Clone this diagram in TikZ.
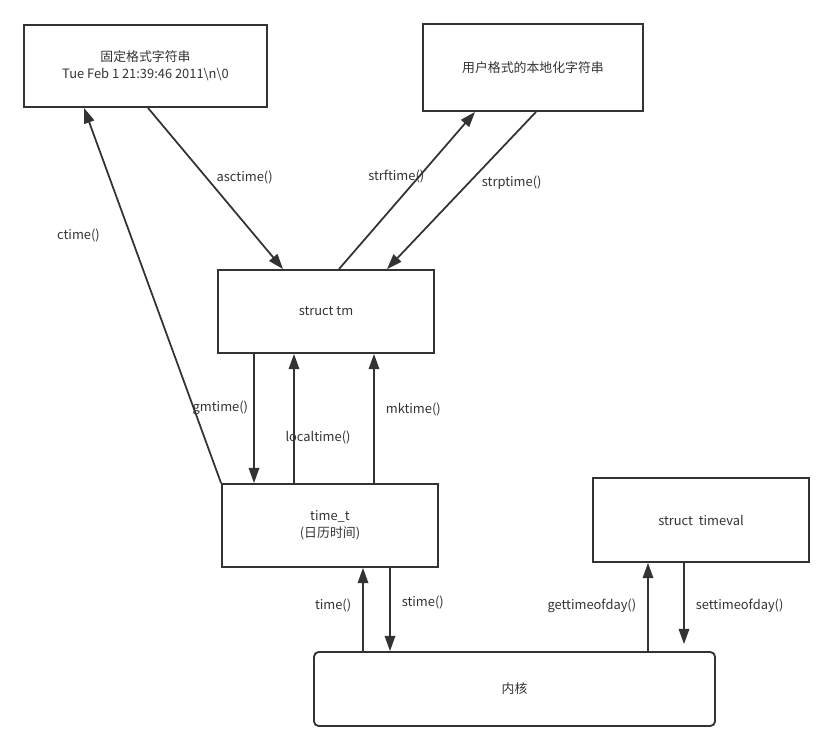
\documentclass[tikz,border=0pt]{standalone}
\usepackage{fontspec}
\setmainfont{Noto Sans CJK SC}
\usepackage{xcolor}
\usepackage{tikz}
\definecolor{ink}{HTML}{333333}
\tikzstyle{box} = [draw=ink, line width=1.6pt, text=ink, align=center, inner sep=0pt]
\tikzstyle{arr} = [draw=ink, line width=1.5pt, -{Triangle[length=13pt,width=9pt]}]
\tikzstyle{lbl} = [text=ink]
\usetikzlibrary{arrows.meta,calc}

\begin{document}
\begin{tikzpicture}[x=0.03cm, y=-0.03cm]
  \tikzstyle{every node}=[font=\fontsize{11}{14.5}\selectfont]
  \useasboundingbox (0,0) rectangle (834,752);
  \node[box, minimum width=7.29cm, minimum height=2.46cm] (fixstr) at (145.5,66) {固定格式字符串\\Tue Feb 1 21:39:46 2011\textbackslash n\textbackslash 0};
  \node[box, minimum width=6.6cm, minimum height=2.61cm] (userstr) at (533,67.5) {用户格式的本地化字符串};
  \node[box, minimum width=6.48cm, minimum height=2.49cm] (tm) at (326,311.5) {struct tm};
  \node[box, minimum width=6.48cm, minimum height=2.49cm] (timet) at (330,525.5) {time\_t\\(日历时间)};
  \node[box, minimum width=6.48cm, minimum height=2.52cm] (timeval) at (701,520) {struct\ \ timeval};
  \node[box, rounded corners=4pt, minimum width=12.03cm, minimum height=2.22cm] (kernel) at (514.5,689) {内核};

  \draw[arr] ($(fixstr.south)+(2.5,0)$) -- ($(tm.north)+(-43,0)$) node[lbl, pos=0.43, right=5pt] {asctime()};
  \draw[arr] ($(tm.north)+(13,0)$) -- ($(userstr.south)+(-58,0)$) node[lbl, pos=0.59, xshift=-0.69cm] {strftime()};
  \draw[arr] ($(userstr.south)+(3,0)$) -- ($(tm.north)+(61,0)$) node[lbl, pos=0.45, right=7pt] {strptime()};
  \draw[arr] (timet.north west) -- ($(fixstr.south)+(-61.5,0)$) node[lbl, pos=0.66, left=0.78cm] {ctime()};

  \draw[arr] ($(tm.south)+(-72,0)$) -- ($(timet.north)+(-76,0)$) node[lbl, pos=0.42, left=1pt] {gmtime()};
  \draw[arr] ($(timet.north)+(-36,0)$) -- ($(tm.south)+(-32,0)$) node[lbl, pos=0.35, xshift=0.72cm] {localtime()};
  \draw[arr] ($(timet.north)+(44,0)$) -- ($(tm.south)+(48,0)$) node[lbl, pos=0.57, right=6pt] {mktime()};

  \draw[arr] ($(kernel.north)+(-151.5,0)$) -- ($(timet.south)+(33,0)$) node[lbl, pos=0.55, left=6pt] {time()};
  \draw[arr] ($(timet.south)+(60,0)$) -- ($(kernel.north)+(-124.5,0)$) node[lbl, pos=0.41, right=6pt] {stime()};
  \draw[arr] ($(kernel.north)+(133.5,0)$) -- ($(timeval.south)+(-53,0)$) node[lbl, pos=0.51, left=6pt] {gettimeofday()};
  \draw[arr] ($(timeval.south)+(-17,0)$) -- ($(kernel.north)+(169.5,-7)$) node[lbl, pos=0.53, right=6pt] {settimeofday()};
\end{tikzpicture}
\end{document}
